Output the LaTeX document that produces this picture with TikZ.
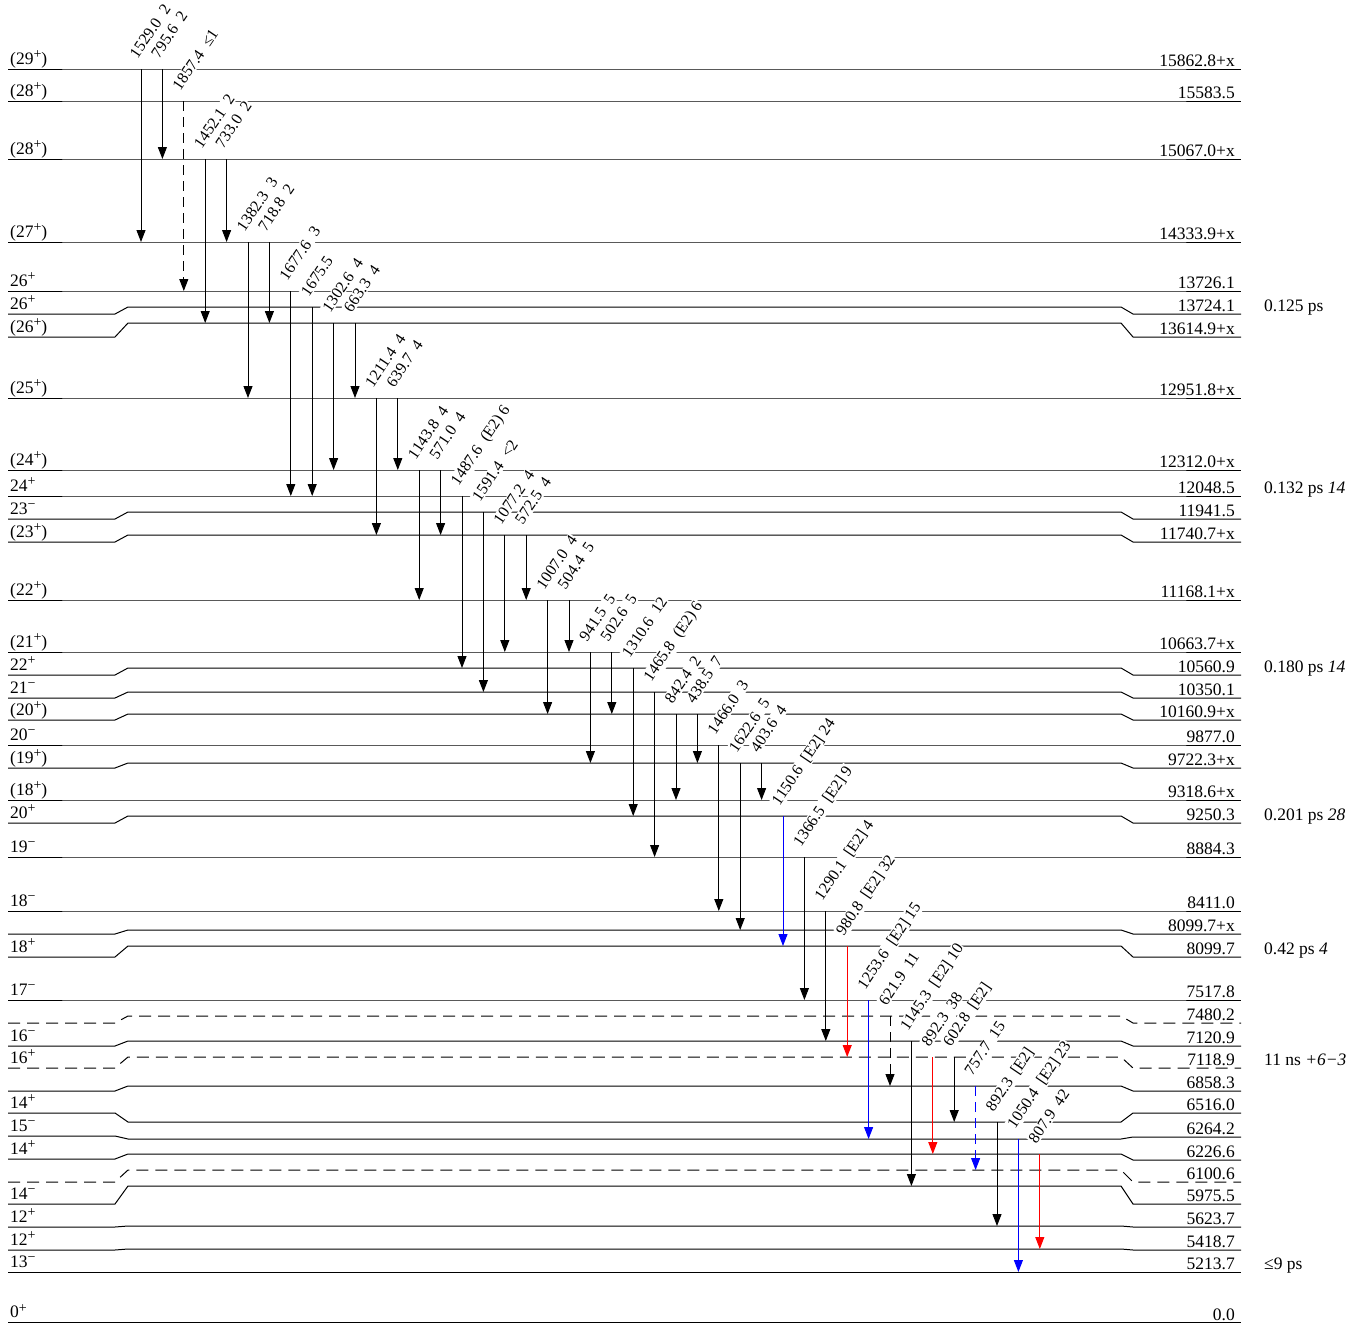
\documentclass[tikz,border=0pt]{standalone}
\usepackage{fontspec}
\setmainfont{Liberation Serif}
\usetikzlibrary{arrows.meta}
\newcommand\Lev[6][solid]{%
  \draw[levline,#1] (8,#2) -- (115,#2) -- (128,#3) -- (1121,#3) -- (1133,#4) -- (1241,#4);
  \node[spinlab] at (10,{#2-5}) {#5};
  \node[enlab] at (1235,{#4-2.5}) {#6};
}
\newcommand\Pl{\raisebox{5.5pt}{\fontsize{14}{12}\selectfont +}}
\newcommand\Mi{\raisebox{5.5pt}{\fontsize{14}{12}\selectfont −}}
\begin{document}
\begin{tikzpicture}[x=1pt,y=-1pt,
  every node/.style={font=\fontsize{17.5}{20}\selectfont},
  levline/.style={line width=1pt},
  dl/.style={dash pattern=on 12pt off 7pt},
  spinlab/.style={anchor=base west,inner sep=0pt},
  enlab/.style={anchor=base east,inner sep=0pt},
  lifelab/.style={anchor=base west,inner sep=0pt},
  glab/.style={rotate=56,anchor=base west,fill=white,inner sep=1pt,font=\fontsize{16}{18}\selectfont},
  gam/.style={line width=1pt,-{Triangle[width=9pt,length=12pt]}},
  k/.style={draw=black},
  b/.style={draw=blue},
  r/.style={draw=red},
  kd/.style={draw=black,dash pattern=on 10pt off 6pt},
  bd/.style={draw=blue,dash pattern=on 10pt off 6pt}]
\useasboundingbox (0,0) rectangle (1369,1325);
\fill[white] (0,0) rectangle (1369,1325);
% levels
\Lev{69}{69}{69}{(29\Pl)}{15862.8+x}
\Lev{101}{101}{101}{(28\Pl)}{15583.5}
\Lev{159}{159}{159}{(28\Pl)}{15067.0+x}
\Lev{242}{242}{242}{(27\Pl)}{14333.9+x}
\Lev{291}{291}{291}{26\Pl}{13726.1}
\Lev{314}{307}{314}{26\Pl}{13724.1}
\Lev{337}{323}{337}{(26\Pl)}{13614.9+x}
\Lev{398}{398}{398}{(25\Pl)}{12951.8+x}
\Lev{470}{470}{470}{(24\Pl)}{12312.0+x}
\Lev{496}{496}{496}{24\Pl}{12048.5}
\Lev{519}{512}{519}{23\Mi}{11941.5}
\Lev{542}{535}{542}{(23\Pl)}{11740.7+x}
\Lev{600}{600}{600}{(22\Pl)}{11168.1+x}
\Lev{652}{652}{652}{(21\Pl)}{10663.7+x}
\Lev{675}{668}{675}{22\Pl}{10560.9}
\Lev{698}{692}{698}{21\Mi}{10350.1}
\Lev{720}{714}{720}{(20\Pl)}{10160.9+x}
\Lev{745}{745}{745}{20\Mi}{9877.0}
\Lev{768}{763}{768}{(19\Pl)}{9722.3+x}
\Lev{800}{800}{800}{(18\Pl)}{9318.6+x}
\Lev{823}{816}{823}{20\Pl}{9250.3}
\Lev{857}{857}{857}{19\Mi}{8884.3}
\Lev{911}{911}{911}{18\Mi}{8411.0}
\Lev{934}{930}{934}{}{8099.7+x}
\Lev{957}{946}{957}{18\Pl}{8099.7}
\Lev{1000}{1000}{1000}{17\Mi}{7517.8}
\Lev[dl]{1023}{1016}{1023}{}{7480.2}
\Lev{1046}{1041}{1046}{16\Mi}{7120.9}
\Lev[dl]{1068}{1057}{1068}{16\Pl}{7118.9}
\Lev{1091}{1086}{1091}{}{6858.3}
\Lev{1113}{1122}{1113}{14\Pl}{6516.0}
\Lev{1136}{1139}{1137}{15\Mi}{6264.2}
\Lev{1159}{1154}{1160}{14\Pl}{6226.6}
\Lev[dl]{1182}{1170}{1182}{}{6100.6}
\Lev{1204}{1186}{1204}{14\Mi}{5975.5}
\Lev{1227}{1226}{1227}{12\Pl}{5623.7}
\Lev{1250}{1249}{1250}{12\Pl}{5418.7}
\Lev{1272}{1272}{1272}{13\Mi}{5213.7}
\Lev{1322.5}{1322.5}{1322.5}{0\Pl}{0.0}
% lifetimes
\node[lifelab] (t1) at (1264,311.5) {0.125 ps};
\node[lifelab] (t2) at (1264,493.5) {0.132 ps \textit{14}};
\node[lifelab] (t3) at (1264,672.5) {0.180 ps \textit{14}};
\node[lifelab] (t4) at (1264,820.5) {0.201 ps \textit{28}};
\node[lifelab] (t5) at (1264,954.5) {0.42 ps \textit{4}};
\node[lifelab] (t6) at (1264,1065.5) {11 ns \textit{+6−3}};
\node[lifelab] (t7) at (1264,1269.5) {≤9 ps};
\def\gammalist{
 1/69/242/{1529.0\enspace 2}/k,
 2/69/159/{795.6\enspace 2}/k,
 3/101/291/{1857.4\enspace ≤1}/kd,
 4/159/323/{1452.1\enspace 2}/k,
 5/159/242/{733.0\enspace 2}/k,
 6/242/398/{1382.3\enspace 3}/k,
 7/242/323/{718.8\enspace 2}/k,
 8/291/496/{1677.6\enspace 3}/k,
 9/307/496/{1675.5}/k,
 10/323/470/{1302.6\enspace 4}/k,
 11/323/398/{663.3\enspace 4}/k,
 12/398/535/{1211.4\enspace 4}/k,
 13/398/470/{639.7\enspace 4}/k,
 14/470/600/{1143.8\enspace 4}/k,
 15/470/535/{571.0\enspace 4}/k,
 16/496/668/{1487.6\enspace (E2) 6}/k,
 17/512/692/{1591.4\enspace <2}/k,
 18/535/652/{1077.2\enspace 4}/k,
 19/535/600/{572.5\enspace 4}/k,
 20/600/714/{1007.0\enspace 4}/k,
 21/600/652/{504.4\enspace 5}/k,
 22/652/763/{941.5\enspace 5}/k,
 23/652/714/{502.6\enspace 5}/k,
 24/668/816/{1310.6\enspace 12}/k,
 25/692/857/{1465.8\enspace (E2) 6}/k,
 26/714/800/{842.4\enspace 2}/k,
 27/714/763/{438.5\enspace 7}/k,
 28/745/911/{1466.0\enspace 3}/k,
 29/763/930/{1622.6\enspace 5}/k,
 30/763/800/{403.6\enspace 4}/k,
 31/816/946/{1150.6\enspace [E2] 24}/b,
 32/857/1000/{1366.5\enspace [E2] 9}/k,
 33/911/1041/{1290.1\enspace [E2] 4}/k,
 34/946/1057/{980.8\enspace [E2] 32}/r,
 35/1000/1139/{1253.6\enspace [E2] 15}/b,
 36/1016/1086/{621.9\enspace 11}/kd,
 37/1041/1186/{1145.3\enspace [E2] 10}/k,
 38/1057/1154/{892.3\enspace 38}/r,
 39/1057/1122/{602.8\enspace [E2]}/k,
 40/1086/1170/{757.7\enspace 15}/bd,
 41/1122/1226/{892.3\enspace [E2]}/k,
 42/1139/1272/{1050.4\enspace [E2] 23}/b,
 43/1154/1249/{807.9\enspace 42}/r}
% labels
\foreach \n/\ya/\yb/\lab/\sty in \gammalist {
  \node[glab] (g\n) at ({141+21.4*(\n-1)-4},{\ya-9}) {\lab};
}
% transitions
\foreach \n/\ya/\yb/\lab/\sty in \gammalist {
  \coordinate (s\n) at ({141+21.4*(\n-1)},\ya);
  \coordinate (e\n) at ({141+21.4*(\n-1)},\yb);
  \draw[gam,\sty] (s\n) -- (e\n);
}
\end{tikzpicture}
\end{document}
